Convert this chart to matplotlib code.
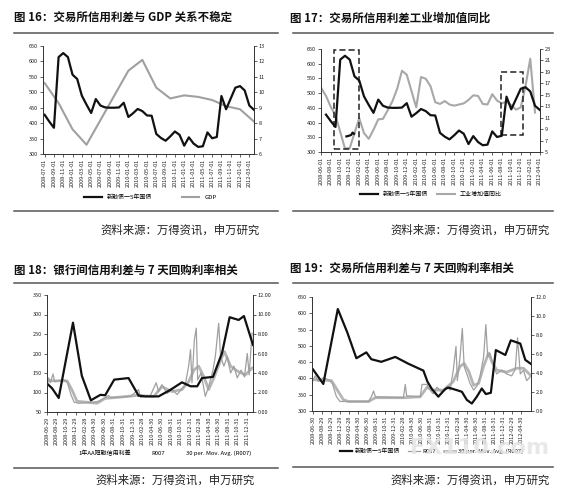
import numpy as np
import matplotlib
matplotlib.use('Agg')
from matplotlib import pyplot as plt
from matplotlib.lines import Line2D
from matplotlib.patches import Rectangle

plt.rcParams['font.family'] = ['Noto Sans CJK SC', 'DejaVu Sans']

W, H = 583, 493

# ---- fig 16 / 17: exchange credit spread (monthly from 2008-07)
spread_start = '2008-07'
spread = [427, 405, 385, 614, 627, 614,
          557, 543, 489, 460, 433, 478, 457, 451, 450, 450, 451, 466,
          420, 432, 446, 439, 425, 424, 365, 352, 343, 357, 373, 362,
          327, 354, 334, 323, 325, 370, 351, 355, 488, 445, 480, 515,
          520, 506, 457, 443]

# GDP, quarterly points starting 2008-07
gdp = [10.6, 9.3, 7.6, 6.6, 8.2, 9.8, 11.4, 12.1, 10.3, 9.6, 9.8, 9.7, 9.5, 9.1, 8.9, 8.1]

p1_ticks = ['2008-07-01', '2008-09-01', '2008-11-01', '2009-01-01', '2009-03-01',
            '2009-05-01', '2009-07-01', '2009-09-01', '2009-11-01', '2010-01-01',
            '2010-03-01', '2010-05-01', '2010-07-01', '2010-09-01', '2010-11-01',
            '2011-01-01', '2011-03-01', '2011-05-01', '2011-07-01', '2011-09-01',
            '2011-11-01', '2012-01-01', '2012-03-01']

# industrial value added yoy
ip_months = ['2008-06', '2008-07', '2008-08', '2008-09', '2008-10', '2008-11', '2008-12',
             '2009-02', '2009-03', '2009-04', '2009-05', '2009-06', '2009-07', '2009-08',
             '2009-09', '2009-10', '2009-11', '2009-12',
             '2010-02', '2010-03', '2010-04', '2010-05', '2010-06', '2010-07', '2010-08',
             '2010-09', '2010-10', '2010-11', '2010-12',
             '2011-01', '2011-02', '2011-03', '2011-04', '2011-05', '2011-06', '2011-07',
             '2011-08', '2011-09', '2011-10', '2011-11', '2011-12',
             '2012-01', '2012-02', '2012-03']
ip_vals = [16.2, 14.8, 12.9, 11.4, 8.5, 5.6, 5.7,
           10.9, 8.3, 7.3, 8.9, 10.7, 10.8, 12.3, 13.9, 16.1, 19.2, 18.5,
           12.8, 18.1, 17.8, 16.5, 13.7, 13.4, 13.9, 13.3, 13.1, 13.3, 13.5,
           14.1, 14.9, 14.8, 13.4, 13.3, 15.1, 14.0, 13.5, 13.8, 13.2, 12.4, 12.8,
           16.5, 21.3, 11.9]

p2_ticks = ['2008-06-01', '2008-08-01', '2008-10-01', '2008-12-01', '2009-02-01',
            '2009-04-01', '2009-06-01', '2009-08-01', '2009-10-01', '2009-12-01',
            '2010-02-01', '2010-04-01', '2010-06-01', '2010-08-01', '2010-10-01',
            '2010-12-01', '2011-02-01', '2011-04-01', '2011-06-01', '2011-08-01',
            '2011-10-01', '2011-12-01', '2012-02-01', '2012-04-01']

# stray black scribble inside the first dashed box (months since 2008-06)
stray_x = [5.3, 5.8, 6.3, 6.6, 6.9]
stray_y = [353, 355, 358, 366, 362]

# ---- fig 18: interbank AA spread vs R007 (x in months since 2008-06-29)
aa_x = [0, 1.05, 2.45, 5.45, 7.3, 9.2, 11.2, 12.2, 14.1, 17.1, 19.2, 20.6,
        23.4, 25.9, 28.3, 30.1, 31.5, 32.5, 34.8, 36.7, 38.3, 40.2, 41.3, 43.2]
aa_y = [123, 111, 86, 279, 143, 80, 94, 93, 133, 137, 92, 90,
        90, 107, 126, 116, 116, 137, 140, 201, 293, 286, 296, 222]

r3_x = [0, 0.35, 0.7, 1.26, 1.6, 2.45, 3.5, 4.3, 5.0, 5.7, 6.6, 9.8, 10.8, 11.9,
        12.9, 13.3, 14.7, 17.5, 19.2, 19.6, 21.7, 22.9, 23.4, 24.1, 25.2, 26.2,
        27.3, 28.3, 29.0, 29.7, 30.1, 30.4, 30.9, 31.3, 31.6, 32.3, 33.2, 33.9,
        34.8, 35.3, 36.0, 36.4, 37.1, 37.8, 38.5, 39.2, 39.9, 40.7, 41.4, 42.0,
        42.4, 43.0]
r3_y = [2.6, 3.5, 3.0, 3.9, 3.1, 3.2, 3.3, 3.0, 1.8, 1.0, 0.9, 1.0, 1.1, 1.4,
        1.7, 1.5, 1.5, 1.6, 2.3, 1.5, 1.7, 3.0, 2.1, 2.8, 1.9, 2.3,
        1.8, 2.4, 2.8, 4.7, 6.4, 3.0, 7.4, 8.6, 3.3, 4.0, 1.6, 2.6,
        4.3, 5.7, 9.1, 5.7, 4.7, 5.7, 4.0, 4.7, 3.5, 4.3, 3.6, 6.0,
        3.8, 8.1]
ma3_x = [0, 4.2, 5.2, 6.3, 10.5, 12.2, 14.7, 18.9, 22.4, 24.1, 26.2, 28.3, 29.7,
         30.8, 31.8, 32.9, 33.9, 35.0, 36.4, 37.2, 38.5, 39.9, 41.6, 43.0]
ma3_y = [3.2, 3.2, 2.3, 1.1, 0.9, 1.4, 1.5, 1.7, 1.6, 2.6, 2.1, 2.3, 3.1,
         4.3, 4.7, 3.6, 2.3, 3.5, 5.3, 6.2, 4.7, 4.2, 3.8, 4.5]

p3_ticks = ['2008-06-29', '2008-08-29', '2008-10-29', '2008-12-29', '2009-02-28',
            '2009-04-30', '2009-06-30', '2009-08-31', '2009-10-31', '2009-12-31',
            '2010-02-28', '2010-04-30', '2010-06-30', '2010-08-31', '2010-10-31',
            '2010-12-31', '2011-02-28', '2011-04-30', '2011-06-30', '2011-08-31',
            '2011-10-31', '2011-12-31']

# ---- fig 19: exchange spread vs R007 (x in months since 2008-06-30)
ex_x = [0, 2.3, 5.5, 7.6, 9.6, 11.8, 12.9, 15.1, 18.2, 21.1, 24.4, 25.3, 26.3,
        27.7, 29.2, 29.9, 31.8, 32.9, 34.0, 35.1, 36.2, 37.3, 38.2, 39.3, 40.4,
        42.5, 43.7, 45.8, 46.9, 48.1]
ex_y = [428, 383, 613, 541, 462, 480, 459, 451, 466, 445, 424, 390, 367,
        344, 367, 372, 364, 359, 334, 323, 344, 369, 352, 356, 487,
        472, 517, 507, 457, 445]

r4_x = [0, 0.5, 1.2, 2.3, 3.4, 4.3, 5.2, 6.0, 12.3, 13.0, 13.4, 13.8, 20.0, 20.4,
        20.7, 23.7, 24.1, 25.2, 25.5, 26.6, 27.4, 28.5, 29.6, 30.3, 31.0, 31.6,
        31.9, 32.5, 33.0, 33.4, 34.0, 34.7, 35.5, 36.2, 36.9, 37.7, 38.2, 38.6,
        39.1, 39.9, 40.6, 41.7, 42.8, 43.9, 44.7, 45.2, 45.8, 46.5, 47.2, 48.0]
r4_y = [3.2, 3.7, 3.1, 3.5, 3.3, 2.9, 1.5, 1.0, 1.0, 1.6, 2.1, 1.5, 1.4, 2.8,
        1.6, 1.5, 2.8, 2.8, 2.4, 1.8, 2.5, 2.0, 2.6, 2.2, 4.3, 6.8,
        3.2, 5.7, 8.7, 4.7, 3.9, 2.9, 2.2, 2.6, 3.6, 5.7, 9.1, 5.7,
        6.1, 4.7, 3.9, 4.3, 3.9, 3.7, 4.4, 7.7, 3.9, 4.3, 3.2, 3.6]
ma4_x = [0, 4.1, 6.7, 7.8, 12.3, 13.8, 20.0, 23.7, 25.2, 26.6, 28.9, 31.0, 32.5,
         33.4, 34.4, 35.5, 36.6, 37.7, 38.8, 39.5, 40.6, 42.8, 45.0, 46.5, 48.0]
ma4_y = [3.3, 3.2, 1.2, 1.0, 1.0, 1.4, 1.4, 1.5, 2.5, 2.2, 2.2, 3.1, 4.7,
         5.0, 4.2, 2.7, 2.9, 4.7, 6.1, 5.2, 4.3, 4.1, 4.5, 4.5, 3.8]

p4_ticks = ['2008-06-30', '2008-08-29', '2008-10-29', '2008-12-29', '2009-02-28',
            '2009-04-30', '2009-06-30', '2009-08-31', '2009-10-31', '2009-12-31',
            '2010-02-28', '2010-04-30', '2010-06-30', '2010-08-31', '2010-10-31',
            '2010-12-31', '2011-02-28', '2011-04-30', '2011-06-30', '2011-08-31',
            '2011-10-31', '2011-12-31', '2012-02-29', '2012-04-30']

source = '资料来源：万得资讯，申万研究'
spread_label = '新融债一5年国债'


def midx(s, origin):
    y, m = map(int, s.split('-'))
    oy, om = map(int, origin.split('-'))
    return (y - oy) * 12 + (m - om)


def px_axes(fig, l, t, r, b):
    return fig.add_axes([l / W, 1 - b / H, (r - l) / W, (b - t) / H])


def style(ax, tw):
    for a in (ax, tw):
        a.spines['top'].set_visible(False)
        for s in ('left', 'right', 'bottom'):
            a.spines[s].set_linewidth(0.6)
            a.spines[s].set_color('#333333')
        a.tick_params(labelsize=4, length=2, width=0.5, pad=1.5, colors='#222222')
    ax.set_zorder(tw.get_zorder() + 1)
    ax.patch.set_visible(False)


def rule(fig, x0, x1, y):
    fig.add_artist(Line2D([x0 / W, x1 / W], [1 - y / H, 1 - y / H],
                          transform=fig.transFigure, color='#555555', lw=1.1))


def ftext(fig, x, y, s, **kw):
    fig.text(x / W, 1 - y / H, s, **kw)


fig = plt.figure(figsize=(W / 100, H / 100), dpi=100)
title_kw = dict(fontsize=8.3, fontweight='bold', va='center', ha='left', color='#111111')
src_kw = dict(fontsize=8.2, va='center', ha='left', color='#222222')

# ---------------- fig 16
ax = px_axes(fig, 43, 46, 254, 154)
tw = ax.twinx()
style(ax, tw)
x1 = np.arange(len(spread))
ax.plot(x1, spread, color='#111111', lw=1.6)
xg = np.arange(len(gdp)) * 3
tw.plot(xg, gdp, color='#a0a0a0', lw=1.5)
ax.set_ylim(300, 650)
ax.set_yticks(range(300, 651, 50))
tw.set_ylim(6, 13)
tw.set_yticks(range(6, 14))
ax.set_xlim(-0.35, 45)
ax.set_xticks(np.arange(len(p1_ticks)) * 2)
ax.set_xticklabels(p1_ticks, rotation=90)
h1 = [Line2D([], [], color='#111111', lw=1.6), Line2D([], [], color='#a0a0a0', lw=1.5)]
ax.legend(h1, [spread_label, 'GDP'], loc='center', ncol=2, frameon=False, fontsize=4.3,
          handlelength=3, columnspacing=5, bbox_to_anchor=(150 / W, 1 - 197 / H),
          bbox_transform=fig.transFigure)
ftext(fig, 14, 18, '图 16：交易所信用利差与 GDP 关系不稳定', **title_kw)
rule(fig, 14, 278, 33)
rule(fig, 14, 278, 211)
ftext(fig, 100, 230, source, **src_kw)

# ---------------- fig 17
ax = px_axes(fig, 321, 49, 540, 152)
tw = ax.twinx()
style(ax, tw)
x2 = np.arange(len(spread)) + midx(spread_start, '2008-06')
ax.plot(x2, spread, color='#111111', lw=1.6)
ax.plot(stray_x, stray_y, color='#111111', lw=1.6)
xi = [midx(m, '2008-06') for m in ip_months]
tw.plot(xi, ip_vals, color='#a8a8a8', lw=1.5)
ax.add_patch(Rectangle((2.66, 310), 5.24, 335, fill=False, ec='#222222', lw=1.1,
                       ls=(0, (4, 2))))
ax.add_patch(Rectangle((37.8, 359), 4.7, 213, fill=False, ec='#222222', lw=1.1,
                       ls=(0, (4, 2))))
ax.set_ylim(300, 650)
ax.set_yticks(range(300, 651, 50))
tw.set_ylim(5, 23)
tw.set_yticks(range(5, 24, 2))
ax.set_xlim(-0.05, 46.05)
ax.set_xticks(np.arange(len(p2_ticks)) * 2)
ax.set_xticklabels(p2_ticks, rotation=90)
h2 = [Line2D([], [], color='#111111', lw=1.6), Line2D([], [], color='#a8a8a8', lw=1.5)]
ax.legend(h2, [spread_label, '工业增加值同比'], loc='center', ncol=2, frameon=False,
          fontsize=4.3, handlelength=3, columnspacing=1.5,
          bbox_to_anchor=(431 / W, 1 - 194 / H), bbox_transform=fig.transFigure)
ftext(fig, 290, 18, '图 17：交易所信用利差工业增加值同比', **title_kw)
rule(fig, 293, 553, 33)
rule(fig, 293, 553, 211)
ftext(fig, 390, 230, source, **src_kw)

# ---------------- fig 18
ax = px_axes(fig, 47, 295, 253, 412)
tw = ax.twinx()
style(ax, tw)
ax.plot(aa_x, aa_y, color='#111111', lw=1.6)
tw.plot(ma3_x, ma3_y, color='#b5b5b5', lw=2.0)
tw.plot(r3_x, r3_y, color='#a0a0a0', lw=0.9)
ax.set_ylim(50, 350)
ax.set_yticks(range(50, 351, 50))
tw.set_ylim(0, 12)
tw.set_yticks(range(0, 13, 2))
tw.set_yticklabels([f'{v:.2f}' for v in range(0, 13, 2)])
ax.set_xlim(0, 43.2)
ax.set_xticks(np.arange(len(p3_ticks)) * 2)
ax.set_xticklabels(p3_ticks, rotation=90)
h3 = [Line2D([], [], lw=0) for _ in range(3)]
ax.legend(h3, ['1年AA短融信用利差', 'R007', '30 per. Mov. Avg. (R007)'], loc='center',
          ncol=3, frameon=False, fontsize=4.3, handlelength=0, handletextpad=0,
          columnspacing=3.5, bbox_to_anchor=(165 / W, 1 - 453 / H),
          bbox_transform=fig.transFigure)
ftext(fig, 14, 270, '图 18：银行间信用利差与 7 天回购利率相关', **title_kw)
rule(fig, 14, 278, 283)
rule(fig, 14, 278, 468)
ftext(fig, 95, 480, source, **src_kw)

# ---------------- fig 19
ax = px_axes(fig, 312, 297, 530.7, 411)
tw = ax.twinx()
style(ax, tw)
ax.plot(ex_x, ex_y, color='#111111', lw=1.6)
tw.plot(ma4_x, ma4_y, color='#b5b5b5', lw=2.0)
tw.plot(r4_x, r4_y, color='#a0a0a0', lw=0.9)
ax.set_ylim(300, 650)
ax.set_yticks(range(300, 651, 50))
tw.set_ylim(0, 12)
tw.set_yticks(range(0, 13, 2))
tw.set_yticklabels([f'{v:.1f}' for v in range(0, 13, 2)])
ax.set_xlim(-0.2, 48.1)
ax.set_xticks(np.arange(len(p4_ticks)) * 2)
ax.set_xticklabels(p4_ticks, rotation=90)
h4 = [Line2D([], [], color='#111111', lw=1.6), Line2D([], [], color='#a0a0a0', lw=0.9),
      Line2D([], [], color='#b5b5b5', lw=2.0)]
ax.legend(h4, [spread_label, 'R007', '30 per. Mov. Avg. (R007)'], loc='center', ncol=3,
          frameon=False, fontsize=4.3, handlelength=2, handletextpad=0.5,
          columnspacing=1.2, bbox_to_anchor=(432 / W, 1 - 451 / H),
          bbox_transform=fig.transFigure)
ftext(fig, 290, 268, '图 19：交易所信用利差与 7 天回购利率相关', **title_kw)
rule(fig, 293, 553, 283)
rule(fig, 293, 553, 467)
ftext(fig, 390, 480, source, **src_kw)

# watermark
ftext(fig, 410, 448, 'FX110.com', fontsize=16, fontweight='bold', color='#e4e4e4',
      alpha=0.85, va='center', ha='left', zorder=20, family='DejaVu Sans')

fig.savefig('out.png', dpi=100, facecolor='white')
